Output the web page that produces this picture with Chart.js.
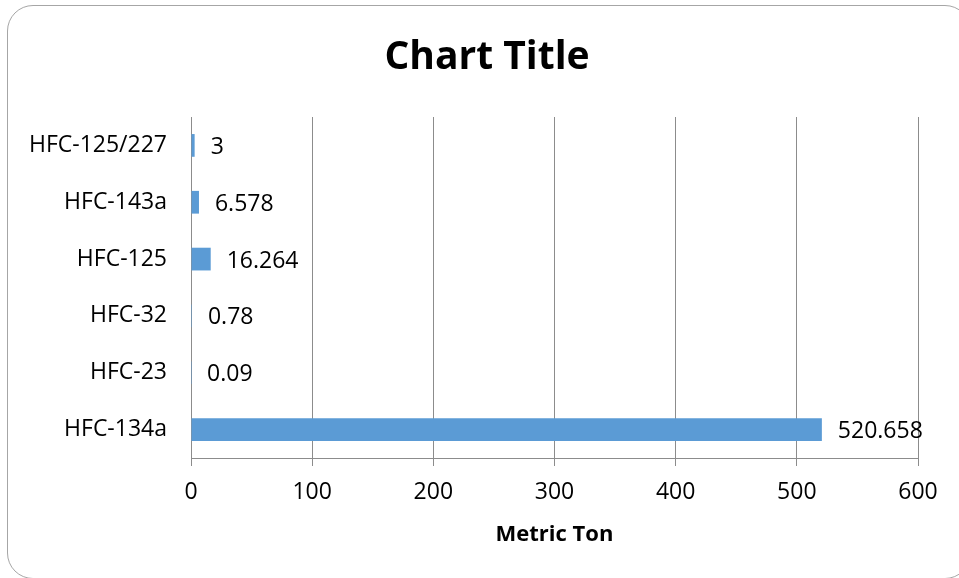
<!DOCTYPE html>
<html>
<head>
<meta charset="utf-8">
<script src="https://cdn.jsdelivr.net/npm/chart.js@4"></script>
<style>
  body { margin: 0; background: #fff; }
  #wrap { position: relative; width: 959px; height: 578px; overflow: hidden; }
  #frame {
    position: absolute; left: 7px; top: 5px; width: 964px; height: 574px;
    border: 1.5px solid #a6a6a6; border-radius: 26px; box-sizing: border-box;
  }
  canvas { position: absolute; left: 0; top: 0; }
</style>
</head>
<body>
<div id="wrap">
  <div id="frame"></div>
  <canvas id="hfcChart" width="959" height="578"></canvas>
</div>
<script>
const chartTitle = 'Chart Title';
const categories = ['HFC-125/227', 'HFC-143a', 'HFC-125', 'HFC-32', 'HFC-23', 'HFC-134a'];
const values = [3, 6.578, 16.264, 0.78, 0.09, 520.658];
const valueLabels = ['3', '6.578', '16.264', '0.78', '0.09', '520.658'];
const xTicks = [0, 100, 200, 300, 400, 500, 600];

const fontFamily = "'Open Sans', 'Liberation Sans', sans-serif";

// draw value next to end of each bar
const valueLabelPlugin = {
    id: 'valueLabels',
    afterDatasetsDraw(chart) {
        const ctx = chart.ctx;
        const meta = chart.getDatasetMeta(0);
        ctx.save();
        ctx.font = '23px ' + fontFamily;
        ctx.fillStyle = '#000';
        ctx.textBaseline = 'middle';
        ctx.textAlign = 'left';
        meta.data.forEach((bar, i) => {
            ctx.fillText(valueLabels[i], bar.x + 16, bar.y + 2);
        });
        ctx.restore();
    }
};

// title is centred on the whole frame, not on the plot
const frameTitlePlugin = {
    id: 'frameTitle',
    afterDraw(chart) {
        const ctx = chart.ctx;
        ctx.save();
        ctx.font = 'bold 39px ' + fontFamily;
        ctx.fillStyle = '#000';
        ctx.textAlign = 'center';
        ctx.textBaseline = 'middle';
        ctx.fillText(chartTitle, 487, 58);
        ctx.restore();
    }
};

let ctx = document.getElementById('hfcChart').getContext('2d');

let hfcChart = new Chart(ctx, {
    type: 'bar',
    data: {
        labels: categories,
        datasets: [{
            data: values,
            backgroundColor: '#5b9bd5',
            borderWidth: 0,
            categoryPercentage: 1,
            barPercentage: 0.4
        }]
    },
    options: {
        indexAxis: 'y',
        responsive: false,
        maintainAspectRatio: false,
        animation: false,
        layout: { padding: { left: 0, right: 41, top: 117, bottom: 0 } },
        scales: {
            x: {
                min: 0,
                max: 600,
                afterBuildTicks: axis => { axis.ticks = xTicks.map(v => ({ value: v })); },
                afterFit: axis => { axis.height = 120; },
                grid: { color: '#8c8c8c', lineWidth: 1, tickLength: 8, drawTicks: true },
                border: { color: '#8c8c8c' },
                ticks: { color: '#000', font: { family: fontFamily, size: 23 }, padding: 13, maxRotation: 0 },
                title: {
                    display: true,
                    text: 'Metric Ton',
                    color: '#000',
                    font: { family: fontFamily, size: 22, weight: 'bold' },
                    padding: { top: 10, bottom: 30 }
                }
            },
            y: {
                afterFit: axis => { axis.width = 191; },
                grid: { display: false, tickLength: 0 },
                border: { color: '#8c8c8c' },
                ticks: { color: '#000', font: { family: fontFamily, size: 23 }, padding: 24 }
            }
        },
        plugins: {
            legend: { display: false },
            tooltip: { enabled: false },
            title: { display: false }
        }
    },
    plugins: [valueLabelPlugin, frameTitlePlugin]
});
</script>
</body>
</html>
